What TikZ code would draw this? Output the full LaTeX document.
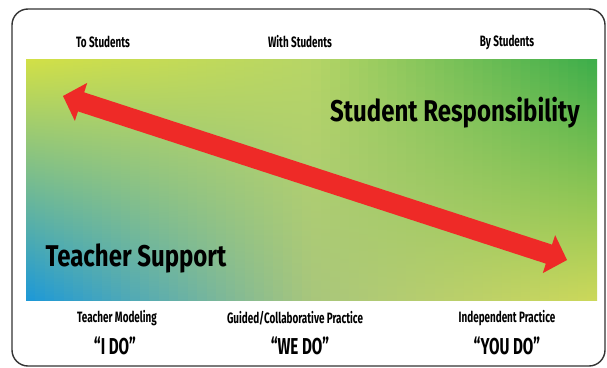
\documentclass[tikz,border=0pt]{standalone}
\usepackage{fontspec}
\setmainfont{Fira Sans}
\newfontfamily\condf[FakeStretch=0.66]{Fira Sans}
\newfontfamily\bigf[FakeStretch=0.8]{Fira Sans}
\usetikzlibrary{calc}
\definecolor{TL}{HTML}{D2E046}
\definecolor{TM}{HTML}{B6D566}
\definecolor{TR}{HTML}{3CAD4A}
\definecolor{ML}{HTML}{C6DA50}
\definecolor{MC}{HTML}{C4D862}
\definecolor{MR}{HTML}{D6DF3C}
\definecolor{BL}{HTML}{1C98D8}
\definecolor{BM}{HTML}{A8C67C}
\definecolor{BR}{HTML}{CCD85A}
\definecolor{arrowred}{HTML}{EE2A27}
\definecolor{frame}{HTML}{333333}
\begin{document}
\begin{tikzpicture}[x=1pt,y=-1pt,
  lbl/.style={font=\condf\bfseries\fontsize{15}{15}\selectfont, text=black, inner sep=0pt},
  doo/.style={font=\condf\bfseries\fontsize{23}{23}\selectfont, text=black, inner sep=0pt},
  big/.style={font=\bigf\bfseries\fontsize{30}{30}\selectfont, text=black, inner sep=0pt}]
\useasboundingbox (0,0) rectangle (607,367);
\fill[white] (0,0) rectangle (607,367);
% outer frame
\draw[frame, line width=1.4pt, rounded corners=16pt] (12,9) rectangle (605,366);
% gradient panel (bilinear-ish approximation with strips)
\foreach \i in {0,...,29}{
  \pgfmathsetmacro\p{(\i+0.5)/30*100}
  \pgfmathsetmacro\xa{26+\i*285.5/30}
  \pgfmathsetmacro\xb{\xa+285.5/30+0.6}
  \colorlet{ct}{TM!\p!TL}\colorlet{cm}{MC!\p!ML}\colorlet{cb}{BM!\p!BL}
  \shade[top color=ct, middle color=cm, bottom color=cb] (\xa,59) rectangle (\xb,300);
}
\foreach \i in {0,...,29}{
  \pgfmathsetmacro\p{(\i+0.5)/30*100}
  \pgfmathsetmacro\xa{311.5+\i*285.5/30}
  \pgfmathsetmacro\xb{min(\xa+285.5/30+0.6,597)}
  \colorlet{ct}{TR!\p!TM}\colorlet{cm}{MR!\p!MC}\colorlet{cb}{BR!\p!BM}
  \shade[top color=ct, middle color=cm, bottom color=cb] (\xa,59) rectangle (\xb,300);
}
% double arrow
\coordinate (L) at (63,96);
\coordinate (R) at (567,260);
\coordinate (Lb) at ($(L)!19pt!(R)$);
\coordinate (Rb) at ($(R)!19pt!(L)$);
\fill[arrowred] (L) -- ($(Lb)!20pt!90:(R)$) -- ($(Lb)!10pt!90:(R)$)
  -- ($(Rb)!10pt!-90:(L)$) -- ($(Rb)!20pt!-90:(L)$) -- (R)
  -- ($(Rb)!20pt!90:(L)$) -- ($(Rb)!10pt!90:(L)$)
  -- ($(Lb)!10pt!-90:(R)$) -- ($(Lb)!20pt!-90:(R)$) -- cycle;
% texts
\node[lbl] (t1) at (103,42) {To Students};
\node[lbl] (t2) at (300,42) {With Students};
\node[lbl] (t3) at (507,42) {By Students};
\node[big] (sr) at (455,113) {Student Responsibility};
\node[big] (ts) at (136,258) {Teacher Support};
\node[lbl] (b1) at (117,318) {Teacher Modeling};
\node[lbl] (b2) at (295,318) {Guided/Collaborative Practice};
\node[lbl] (b3) at (507,318) {Independent Practice};
\node[doo] (d1) at (115,346) {“I DO”};
\node[doo] (d2) at (300,346) {“WE DO”};
\node[doo] (d3) at (507,346) {“YOU DO”};
\end{tikzpicture}
\end{document}
